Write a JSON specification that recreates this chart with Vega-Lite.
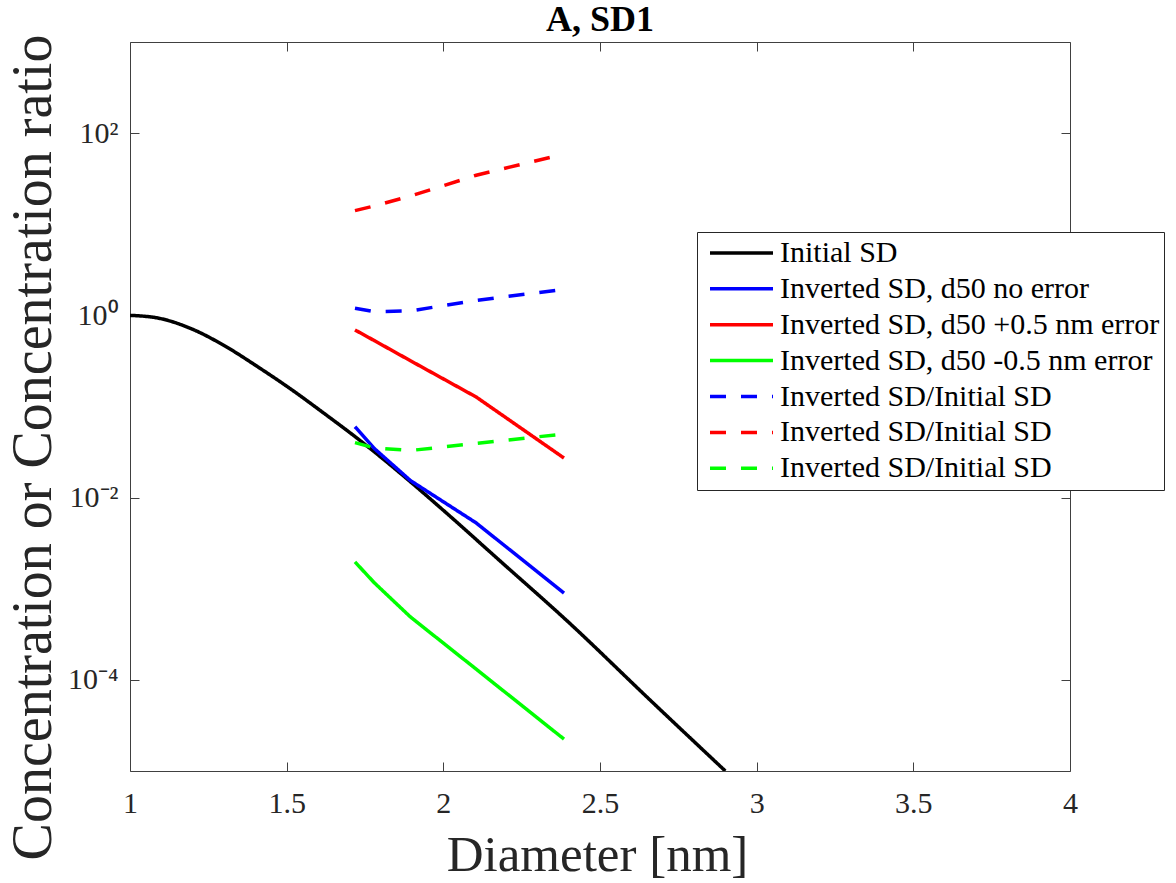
{
  "$schema": "https://vega.github.io/schema/vega-lite/v6.json",
  "width": 940,
  "height": 729,
  "autosize": {"type": "none"},
  "padding": {"left": 130, "top": 42, "right": 106, "bottom": 112},
  "background": "white",
  "title": {"text": "A, SD1", "font": "Liberation Serif", "fontSize": 36, "fontWeight": "bold", "color": "#000000", "baseline": "alphabetic", "offset": 11, "dy": 44, "anchor": "middle"},
  "config": {
    "font": "Liberation Serif",
    "view": {"stroke": "#404040", "strokeWidth": 1}
  },
  "data": {"values": [
    {"s": "a", "d": 1.0, "c": 1.0},
    {"s": "a", "d": 1.089, "c": 0.935},
    {"s": "a", "d": 1.198, "c": 0.708},
    {"s": "a", "d": 1.303, "c": 0.461},
    {"s": "a", "d": 1.409, "c": 0.271},
    {"s": "a", "d": 1.517, "c": 0.152},
    {"s": "a", "d": 1.622, "c": 0.0828},
    {"s": "a", "d": 1.728, "c": 0.044},
    {"s": "a", "d": 1.862, "c": 0.0186},
    {"s": "a", "d": 1.999, "c": 0.00731},
    {"s": "a", "d": 2.181, "c": 0.00202},
    {"s": "a", "d": 2.395, "c": 0.000444},
    {"s": "a", "d": 2.66, "c": 0.00006},
    {"s": "a", "d": 2.9, "c": 0.00001},
    {"s": "b", "d": 1.718, "c": 0.06},
    {"s": "b", "d": 1.78, "c": 0.0345},
    {"s": "b", "d": 1.895, "c": 0.0154},
    {"s": "b", "d": 2.105, "c": 0.00527},
    {"s": "b", "d": 2.385, "c": 0.000897},
    {"s": "c", "d": 1.718, "c": 0.692},
    {"s": "c", "d": 1.78, "c": 0.528},
    {"s": "c", "d": 1.895, "c": 0.318},
    {"s": "c", "d": 2.105, "c": 0.127},
    {"s": "c", "d": 2.385, "c": 0.0272},
    {"s": "d", "d": 1.718, "c": 0.00197},
    {"s": "d", "d": 1.78, "c": 0.00116},
    {"s": "d", "d": 1.895, "c": 0.00049},
    {"s": "d", "d": 2.105, "c": 0.000131},
    {"s": "d", "d": 2.385, "c": 0.0000224},
    {"s": "e", "d": 1.718, "c": 1.2},
    {"s": "e", "d": 1.78, "c": 1.1},
    {"s": "e", "d": 1.895, "c": 1.12},
    {"s": "e", "d": 2.105, "c": 1.46},
    {"s": "e", "d": 2.385, "c": 1.93},
    {"s": "f", "d": 1.718, "c": 14.1},
    {"s": "f", "d": 1.78, "c": 15.9},
    {"s": "f", "d": 1.895, "c": 20.4},
    {"s": "f", "d": 2.105, "c": 34.5},
    {"s": "f", "d": 2.385, "c": 59.0},
    {"s": "g", "d": 1.718, "c": 0.0401},
    {"s": "g", "d": 1.78, "c": 0.0351},
    {"s": "g", "d": 1.895, "c": 0.0329},
    {"s": "g", "d": 2.105, "c": 0.0394},
    {"s": "g", "d": 2.385, "c": 0.0499}
  ]},
  "encoding": {
    "color": {
      "field": "s", "type": "nominal",
      "scale": {"domain": ["a", "b", "c", "d", "e", "f", "g"], "range": ["#000000", "#0000FF", "#FF0000", "#00FF00", "#0000FF", "#FF0000", "#00FF00"]},
      "legend": {
        "orient": "none", "legendX": 567, "legendY": 190, "title": null,
        "padding": 4, "strokeColor": "#262626", "fillColor": "white",
        "labelFont": "Liberation Serif", "labelFontSize": 30, "labelColor": "#000000", "labelLimit": 0,
        "symbolType": "stroke", "symbolSize": 3969, "symbolStrokeWidth": 3.5,
        "symbolOffset": 7, "labelOffset": 5, "clipHeight": 33.8, "rowPadding": 1.9,
        "labelExpr": "['Initial SD','Inverted SD, d50 no error','Inverted SD, d50 +0.5 nm error','Inverted SD, d50 -0.5 nm error','Inverted SD/Initial SD','Inverted SD/Initial SD','Inverted SD/Initial SD'][indexof(['a','b','c','d','e','f','g'], datum.value)]"
      }
    },
    "strokeDash": {
      "field": "s", "type": "nominal",
      "scale": {"domain": ["a", "b", "c", "d", "e", "f", "g"], "range": [[1, 0], [1, 0], [1, 0], [1, 0], [16, 15], [16, 15], [16, 15]]},
      "legend": {
        "orient": "none", "legendX": 567, "legendY": 190, "title": null,
        "padding": 4, "strokeColor": "#262626", "fillColor": "white",
        "labelFont": "Liberation Serif", "labelFontSize": 30, "labelColor": "#000000", "labelLimit": 0,
        "symbolType": "stroke", "symbolSize": 3969, "symbolStrokeWidth": 3.5,
        "symbolOffset": 7, "labelOffset": 5, "clipHeight": 33.8, "rowPadding": 1.9,
        "labelExpr": "['Initial SD','Inverted SD, d50 no error','Inverted SD, d50 +0.5 nm error','Inverted SD, d50 -0.5 nm error','Inverted SD/Initial SD','Inverted SD/Initial SD','Inverted SD/Initial SD'][indexof(['a','b','c','d','e','f','g'], datum.value)]"
      }
    }
  },
  "layer": [
    {
      "transform": [{"filter": "datum.s == 'a'"}],
      "mark": {"type": "line", "interpolate": "monotone", "strokeWidth": 3.5, "clip": true},
      "encoding": {
        "x": {"field": "d", "type": "quantitative", "scale": {"domain": [1, 4], "nice": false, "zero": false},
          "axis": {"orient": "top", "values": [1, 1.5, 2, 2.5, 3, 3.5, 4], "labels": false, "title": null, "domain": false, "grid": false, "tickSize": -9, "tickColor": "#404040", "tickWidth": 1}},
        "y": {"field": "c", "type": "quantitative", "scale": {"type": "log", "domain": [0.00001, 1000], "nice": false},
          "axis": {"orient": "right", "values": [0.0001, 0.01, 1, 100], "labels": false, "title": null, "domain": false, "grid": false, "tickSize": -9, "tickColor": "#404040", "tickWidth": 1}}
      }
    },
    {
      "transform": [{"filter": "datum.s != 'a'"}],
      "mark": {"type": "line", "strokeWidth": 3.5, "clip": true},
      "encoding": {
        "x": {"field": "d", "type": "quantitative", "scale": {"domain": [1, 4], "nice": false, "zero": false},
          "axis": {"orient": "bottom", "values": [1, 1.5, 2, 2.5, 3, 3.5, 4], "labelExpr": "toString(datum.value)", "labelFlush": false,
            "labelFont": "Liberation Serif", "labelFontSize": 30, "labelColor": "#262626", "labelPadding": 50, "labelBaseline": "alphabetic",
            "title": "Diameter [nm]", "titleFont": "Liberation Serif", "titleFontSize": 51, "titleFontWeight": "normal", "titleColor": "#262626",
            "titleBaseline": "alphabetic", "titleY": 99, "titleX": 467,
            "domain": false, "grid": false, "tickSize": -9, "tickColor": "#404040", "tickWidth": 1}},
        "y": {"field": "c", "type": "quantitative", "scale": {"type": "log", "domain": [0.00001, 1000], "nice": false},
          "axis": {"orient": "left", "values": [0.0001, 0.01, 1, 100], "labelFlush": false,
            "labelExpr": "datum.value < 0.001 ? '10⁻⁴' : datum.value < 0.1 ? '10⁻²' : datum.value < 10 ? '10⁰' : '10²'",
            "labelFont": "Liberation Serif", "labelFontSize": 30, "labelColor": "#262626", "labelPadding": 21,
            "title": "Concentration or Concentration ratio", "titleFont": "Liberation Serif", "titleFontSize": 56, "titleFontWeight": "normal", "titleColor": "#262626",
            "titleBaseline": "alphabetic", "titleAngle": -90, "titleX": -80, "titleY": 405, "titleAnchor": "middle",
            "domain": false, "grid": false, "tickSize": -9, "tickColor": "#404040", "tickWidth": 1}}
      }
    }
  ],
  "resolve": {"axis": {"x": "independent", "y": "independent"}}
}
